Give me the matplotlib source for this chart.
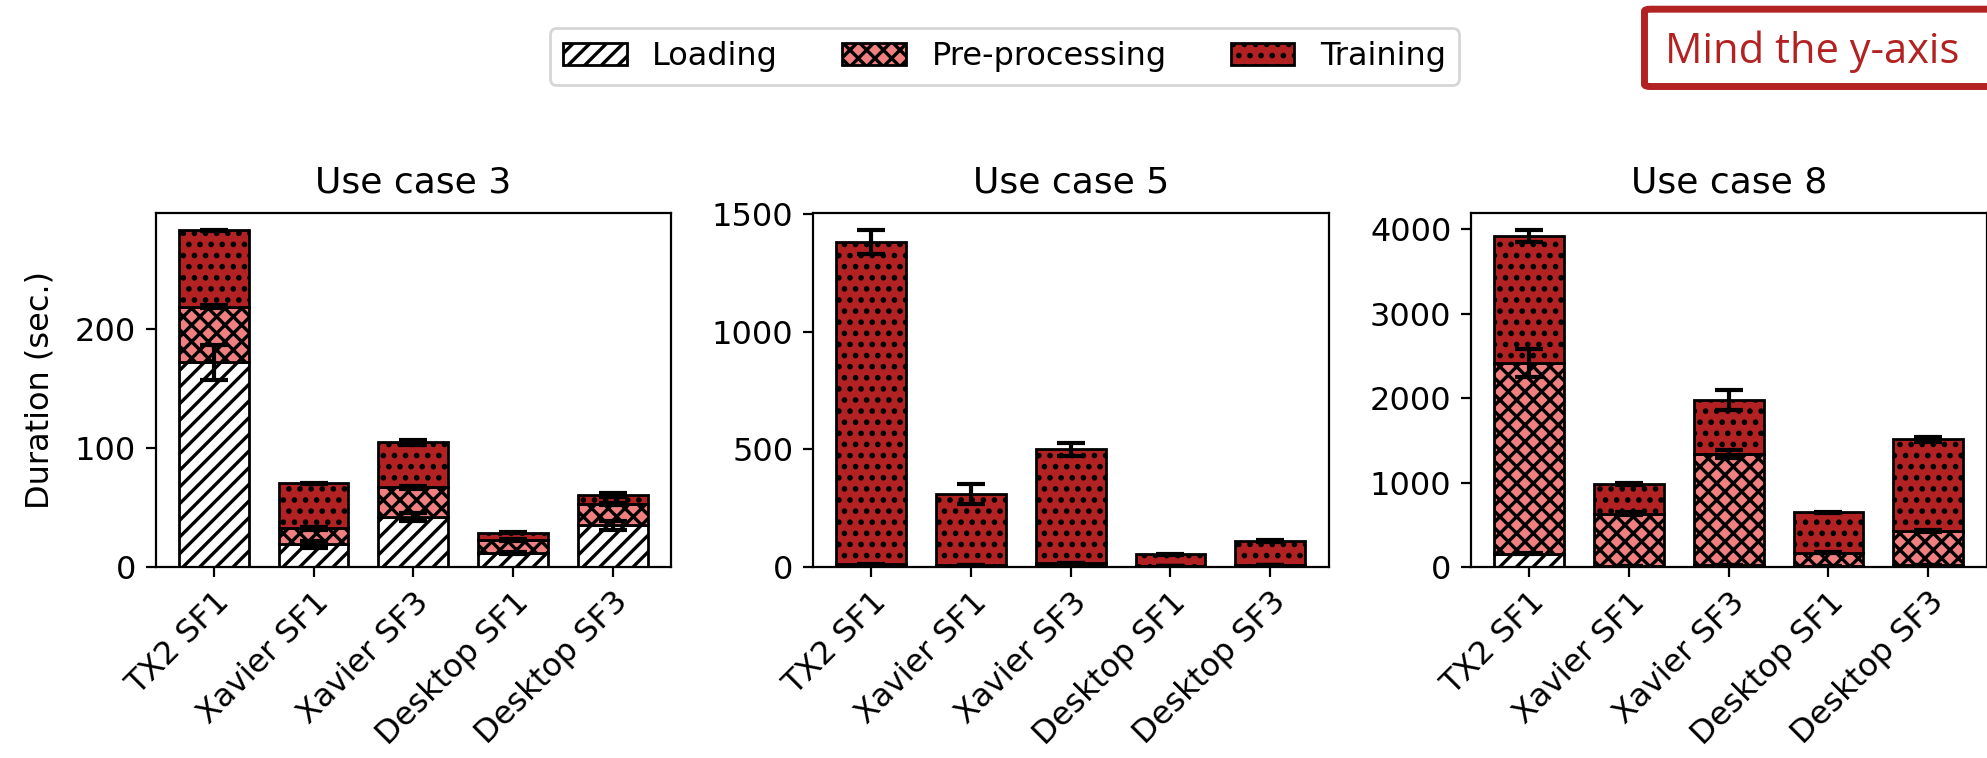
import numpy as np
import matplotlib.pyplot as plt
from matplotlib.patches import Patch, FancyBboxPatch

devices = ['TX2 SF1', 'Xavier SF1', 'Xavier SF3', 'Desktop SF1', 'Desktop SF3']
titles = ['Use case 3', 'Use case 5', 'Use case 8']

# use case 3 (seconds)
uc3_load = [172, 19, 42, 12, 35]
uc3_load_err = [15, 3, 3, 1, 4]
uc3_prep = [47, 13.5, 25, 10.5, 18]
uc3_prep_err = [1, 1, 1, 1, 1]
uc3_train = [64, 38, 38, 6.5, 7.5]
uc3_train_err = [0.5, 0.5, 2, 0.5, 1.5]
uc3_ticks = [0, 100, 200]

# use case 5
uc5_load = [8, 5, 12, 4, 6]
uc5_load_err = [1, 1, 1, 0.5, 1]
uc5_prep = [3, 2, 4, 1, 2]
uc5_prep_err = [0.5, 0.5, 0.5, 0.5, 0.5]
uc5_train = [1371, 303, 485, 49, 103]
uc5_train_err = [52, 44, 28, 2, 3]
uc5_ticks = [0, 500, 1000, 1500]

# use case 8
uc8_load = [158, 15, 25, 10, 20]
uc8_load_err = [5, 1, 2, 1, 1]
uc8_prep = [2258, 616, 1315, 160, 406]
uc8_prep_err = [167, 20, 50, 5, 15]
uc8_train = [1505, 350, 639, 480, 1084]
uc8_train_err = [71, 15, 115, 5, 25]
uc8_ticks = [0, 1000, 2000, 3000, 4000]

panels = [
    (uc3_load, uc3_load_err, uc3_prep, uc3_prep_err, uc3_train, uc3_train_err, uc3_ticks),
    (uc5_load, uc5_load_err, uc5_prep, uc5_prep_err, uc5_train, uc5_train_err, uc5_ticks),
    (uc8_load, uc8_load_err, uc8_prep, uc8_prep_err, uc8_train, uc8_train_err, uc8_ticks),
]

plt.rcParams['hatch.linewidth'] = 1.2

RED = '#b22222'
PINK = '#f08080'
fs = 11.5

fig = plt.figure(figsize=(9.935, 3.79), dpi=200)
lefts = [155.5 / 1987, 813 / 1987, 1471 / 1987]
x = np.arange(len(devices))
err_kw = dict(elinewidth=1.5, capthick=1.5, ecolor='black')

for i, (load, load_err, prep, prep_err, train, train_err, ticks) in enumerate(panels):
    ax = fig.add_axes([lefts[i], 191 / 758, 515.5 / 1987, 354 / 758])
    load = np.array(load)
    prep = np.array(prep)
    ax.bar(x, load, 0.7, yerr=load_err, color='white', edgecolor='black',
           hatch='////', linewidth=1.0, capsize=5, error_kw=err_kw)
    ax.bar(x, prep, 0.7, bottom=load, yerr=prep_err, color=PINK, edgecolor='black',
           hatch='xxxx', linewidth=1.0, capsize=5, error_kw=err_kw)
    ax.bar(x, train, 0.7, bottom=load + prep, yerr=train_err, color=RED, edgecolor='black',
           hatch='...', linewidth=1.0, capsize=5, error_kw=err_kw)
    ax.set_yticks(ticks)
    ax.set_xticks(x)
    ax.set_xticklabels(devices, rotation=45, ha='right', rotation_mode='anchor', fontsize=fs)
    ax.tick_params(axis='y', labelsize=fs)
    ax.set_title(titles[i], fontsize=13, pad=7.5)
    if i == 0:
        ax.set_ylabel('Duration (sec.)', fontsize=fs, labelpad=7)

handles = [
    Patch(facecolor='white', edgecolor='black', hatch='////', label='Loading'),
    Patch(facecolor=PINK, edgecolor='black', hatch='xxxx', label='Pre-processing'),
    Patch(facecolor=RED, edgecolor='black', hatch='...', label='Training'),
]
fig.legend(handles=handles, loc='center', ncol=3, fontsize=fs,
           bbox_to_anchor=(0.5055, 0.9255))

# annotation box, cut by the right edge
box = FancyBboxPatch((1644.5 / 1987, 1 - 86.5 / 758), 0.2, 77.3 / 758,
                     boxstyle='round,pad=0,rounding_size=0.003',
                     transform=fig.transFigure, facecolor='white',
                     edgecolor=RED, linewidth=2.5)
fig.patches.append(box)
fig.text(1665 / 1987, 1 - 63.3 / 758, 'Mind the y-axis', color=RED,
         fontsize=15, family='Open Sans', va='baseline', ha='left')

fig.savefig('out.png', dpi=200)
